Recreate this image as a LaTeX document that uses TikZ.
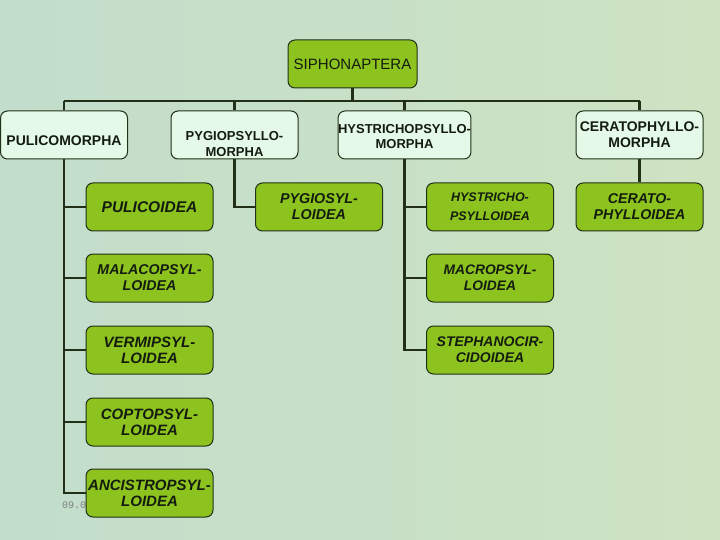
\documentclass[tikz,border=0pt]{standalone}
\usepackage{fontspec}
\setmainfont{Liberation Sans}
\newfontfamily\datefont{Liberation Mono}
\usepackage{xcolor}

\definecolor{bgleft}{RGB}{194,221,204}
\definecolor{bgright}{RGB}{206,227,194}
\definecolor{leafgreen}{RGB}{141,195,30}
\definecolor{mint}{RGB}{228,249,232}
\definecolor{edgecol}{RGB}{34,48,24}
\definecolor{inkcol}{RGB}{20,28,16}

\begin{document}
\begin{tikzpicture}[x=1pt, y=-1pt,
    box/.style={draw=edgecol, line width=1pt, rounded corners=7pt, minimum width=127pt, minimum height=48pt, align=center, inner sep=0pt, text=inkcol},
    order/.style={box, fill=mint, font=\fontsize{13}{16}\selectfont\bfseries},
    superfam/.style={box, fill=leafgreen, font=\fontsize{15}{16}\selectfont\bfseries\itshape},
    link/.style={draw=edgecol, line width=2.4pt}]
    \path[left color=bgleft, right color=bgright] (0,0) rectangle (720,540);
    \useasboundingbox (0,0) rectangle (720,540);

    \node[anchor=west, inner sep=0pt, text=gray, font=\datefont\fontsize{10}{12}\selectfont] (date) at (62,505) {09.0};

    \node[box, fill=leafgreen, minimum width=129pt, font=\fontsize{15}{16}\selectfont] (sipho) at (352.5,64) {SIPHONAPTERA};

    \node[order, font=\fontsize{14}{16}\selectfont\bfseries] (pulicom) at (64,135) {\rule{0pt}{21pt}PULICOMORPHA};
    \node[order] (pygiom) at (234.5,135) {\rule{0pt}{28pt}PYGIOPSYLLO-\\MORPHA};
    \node[order, font=\fontsize{13}{15}\selectfont\bfseries] (hystm) at (404.5,135) {\rule{0pt}{13pt}HYSTRICHOPSYLLO-\\MORPHA};
    \node[order, font=\fontsize{14}{16}\selectfont\bfseries] (ceratm) at (639.5,135) {CERATOPHYLLO-\\MORPHA};

    \node[superfam, font=\fontsize{15.5}{16}\selectfont\bfseries\itshape] (pulicoid) at (149.5,207) {PULICOIDEA};
    \node[superfam, font=\fontsize{14.2}{16}\selectfont\bfseries\itshape] (malaco) at (149.5,278) {MALACOPSYL-\\LOIDEA};
    \node[superfam] (vermi) at (149.5,350) {VERMIPSYL-\\LOIDEA};
    \node[superfam] (copto) at (149.5,422) {COPTOPSYL-\\LOIDEA};
    \node[superfam] (ancis) at (149.5,493) {ANCISTROPSYL-\\LOIDEA};

    \node[superfam, font=\fontsize{14.3}{16}\selectfont\bfseries\itshape] (pygioid) at (319,207) {PYGIOSYL-\\LOIDEA};

    \node[superfam, font=\fontsize{12.5}{19}\selectfont\bfseries\itshape] (hystoid) at (490,207) {HYSTRICHO-\\PSYLLOIDEA};
    \node[superfam, font=\fontsize{13.8}{16}\selectfont\bfseries\itshape] (macro) at (490,278) {MACROPSYL-\\LOIDEA};
    \node[superfam, font=\fontsize{14}{16}\selectfont\bfseries\itshape] (stephan) at (490,350) {STEPHANOCIR-\\CIDOIDEA};

    \node[superfam, font=\fontsize{14.2}{16}\selectfont\bfseries\itshape] (ceratoid) at (639.5,207) {CERATO-\\PHYLLOIDEA};

    \coordinate (busL) at (64,101);
    \coordinate (busR) at (639.5,101);
    \draw[link] (busL) -- (busR);
    \draw[link] (sipho) -- (sipho |- busL);
    \draw[link] (pulicom) -- (pulicom |- busL);
    \draw[link] (pygiom) -- (pygiom |- busL);
    \draw[link] (hystm) -- (hystm |- busL);
    \draw[link] (ceratm) -- (ceratm |- busL);

    \draw[link] (pulicom.south) |- (ancis.west);
    \draw[link] (pulicoid.west) -- (pulicoid.west -| pulicom.south);
    \draw[link] (malaco.west) -- (malaco.west -| pulicom.south);
    \draw[link] (vermi.west) -- (vermi.west -| pulicom.south);
    \draw[link] (copto.west) -- (copto.west -| pulicom.south);

    \draw[link] (pygiom.south) |- (pygioid.west);

    \draw[link] (hystm.south) |- (stephan.west);
    \draw[link] (hystoid.west) -- (hystoid.west -| hystm.south);
    \draw[link] (macro.west) -- (macro.west -| hystm.south);

    \draw[link] (ceratm) -- (ceratoid);
\end{tikzpicture}
\end{document}
